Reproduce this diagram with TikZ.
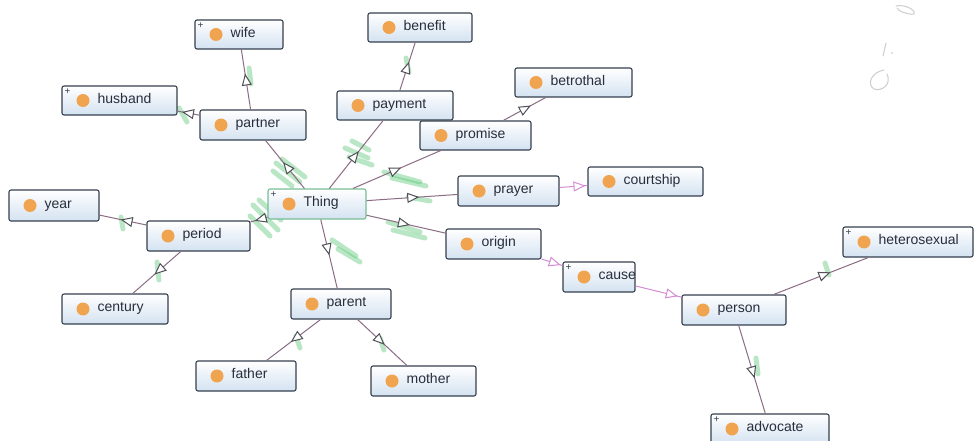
\documentclass[tikz,border=0pt]{standalone}
\usepackage{fontspec}
\setmainfont{Liberation Sans}
\usetikzlibrary{arrows.meta,decorations.markings}

\definecolor{boxline}{RGB}{54,64,78}
\definecolor{boxtop}{RGB}{255,255,255}
\definecolor{boxbottom}{RGB}{212,226,241}
\definecolor{dotc}{RGB}{241,164,80}
\definecolor{txt}{RGB}{40,46,60}
\definecolor{edgec}{RGB}{140,108,132}
\definecolor{pinkc}{RGB}{212,140,212}
\definecolor{tric}{RGB}{80,80,88}
\definecolor{selc}{RGB}{120,190,150}
\definecolor{hlc}{RGB}{80,196,110}
\definecolor{pencil}{RGB}{205,205,205}

\tikzset{
  clsbox/.style={draw=boxline, line width=1.1pt, rounded corners=2pt,
    top color=boxtop, bottom color=boxbottom, inner sep=0pt,
    path picture={\fill[dotc] ([xshift=21pt]path picture bounding box.west) circle (6.5pt);}},
  plusbox/.style={path picture={
    \fill[dotc] ([xshift=21pt]path picture bounding box.west) circle (6.5pt);
    \node[font=\fontsize{10}{10}\selectfont, text=boxline, inner sep=0pt]
      at ([shift={(5.5pt,-5.5pt)}]path picture bounding box.north west) {+};}},
  selbox/.style={draw=selc},
  clslabel/.style={anchor=mid west, inner sep=0pt, text=txt,
    font=\fontsize{14}{16}\selectfont},
  tri/.tip={Triangle[open, fill=white, length=12pt, width=10pt, color=tric, line width=1pt]},
  ptri/.tip={Triangle[open, fill=white, length=12pt, width=10pt, color=pinkc, line width=1pt]},
  isa/.style={draw=edgec, line width=1pt,
    postaction={decorate, decoration={markings, mark=at position #1 with {\arrow{tri}}}}},
  pisa/.style={draw=pinkc, line width=1pt,
    postaction={decorate, decoration={markings, mark=at position #1 with {\arrow{ptri}}}}},
  hl/.style={draw=hlc, opacity=0.4, line width=5pt, line cap=round},
  pen/.style={draw=pencil, line width=1pt, line cap=round}
}

% \classbox{name}{left}{top}{right}{bottom}{text}{extra style}
\newcommand{\classbox}[7]{%
  \node[clsbox,#7,minimum width={#4-#2},minimum height={#5-#3}] (#1)
    at ({(#2+#4)/2},{(#3+#5)/2}) {};
  \node[clslabel] (#1-text) at ([xshift=36pt]#1.west) {#6};}

\begin{document}
\begin{tikzpicture}[x=1pt,y=-1pt]
\useasboundingbox (0,0) rectangle (974,441);
\fill[white] (0,0) rectangle (974,441);
\clip (0,0) rectangle (974,441);

% highlighter strokes under the graph
\draw[hl] (249,68) -- (251,84);
\draw[hl] (179,108) -- (187,122);
\draw[hl] (276,163) -- (300,182);
\draw[hl] (282,159) -- (305,177);
\draw[hl] (273,171) -- (292,186);
\draw[hl] (253,205) -- (278,230);
\draw[hl] (250,216) -- (270,236);
\draw[hl] (259,200) -- (281,220);
\draw[hl] (345,148) -- (368,158);
\draw[hl] (349,157) -- (372,165);
\draw[hl] (352,141) -- (369,150);
\draw[hl] (384,172) -- (420,182);
\draw[hl] (392,178) -- (426,186);
\draw[hl] (408,197) -- (430,201);
\draw[hl] (388,222) -- (420,232);
\draw[hl] (393,230) -- (425,238);
\draw[hl] (332,240) -- (356,256);
\draw[hl] (338,249) -- (360,262);
\draw[hl] (406,58) -- (409,72);
\draw[hl] (121,217) -- (123,229);
\draw[hl] (157,262) -- (159,280);
\draw[hl] (296,336) -- (300,348);
\draw[hl] (380,338) -- (384,350);
\draw[hl] (825,263) -- (829,275);
\draw[hl] (756,358) -- (758,374);

% pencil marks
\draw[pen] (896,6) .. controls (905,4) and (916,10) .. (914,14)
  .. controls (908,15) and (898,11) .. (897,8);
\draw[pen] (886,43) -- (883,56);
\fill[pencil] (892,53) circle (1pt);
\draw[pen] (884,70) .. controls (872,72) and (866,84) .. (874,89)
  .. controls (882,92) and (892,84) .. (887,74);

% classes
\classbox{wife}{195}{20}{283}{49}{wife}{plusbox}
\classbox{benefit}{368}{13}{472}{42}{benefit}{}
\classbox{husband}{62}{86}{177}{115}{husband}{plusbox}
\classbox{partner}{200}{110}{306}{140}{partner}{}
\classbox{payment}{337}{91}{453}{120}{payment}{}
\classbox{betrothal}{515}{68}{632}{97}{betrothal}{}
\classbox{promise}{420}{121}{531}{150}{promise}{}
\classbox{thing}{268}{189}{366}{219}{Thing}{plusbox,selbox}
\classbox{year}{9}{190}{99}{221}{year}{}
\classbox{period}{147}{221}{250}{251}{period}{}
\classbox{prayer}{458}{176}{559}{206}{prayer}{}
\classbox{courtship}{588}{167}{703}{196}{courtship}{}
\classbox{origin}{446}{229}{541}{259}{origin}{}
\classbox{hetero}{843}{227}{973}{257}{heterosexual}{plusbox}
\classbox{cause}{563}{262}{635}{292}{cause}{plusbox}
\classbox{century}{62}{294}{168}{324}{century}{}
\classbox{parent}{291}{289}{391}{319}{parent}{}
\classbox{person}{682}{295}{786}{325}{person}{}
\classbox{father}{196}{361}{296}{391}{father}{}
\classbox{mother}{371}{366}{476}{396}{mother}{}
\classbox{advocate}{711}{414}{829}{444}{advocate}{plusbox}

% subclass links
\path[isa=0.55] (thing) -- (partner);
\path[isa=0.55] (thing) -- (payment);
\path[isa=0.55] (thing) -- (promise);
\path[isa=0.58] (thing) -- (prayer);
\path[isa=0.55] (thing) -- (origin);
\path[isa=0.52] (thing) -- (parent);
\path[isa=0.75] (thing) -- (period);
\path[isa=0.6] (partner) -- (wife);
\path[isa=0.8] (partner) -- (husband);
\path[isa=0.6] (payment) -- (benefit);
\path[isa=0.65] (promise) -- (betrothal);
\path[isa=0.55] (period) -- (year);
\path[isa=0.55] (period) -- (century);
\path[isa=0.55] (parent) -- (father);
\path[isa=0.55] (parent) -- (mother);
\path[pisa=0.93] (prayer) -- (courtship);
\path[pisa=0.92] (origin) -- (cause);
\path[pisa=0.92] (cause) -- (person);
\path[isa=0.6] (person) -- (hetero);
\path[isa=0.6] (person) -- (advocate);
\end{tikzpicture}
\end{document}
